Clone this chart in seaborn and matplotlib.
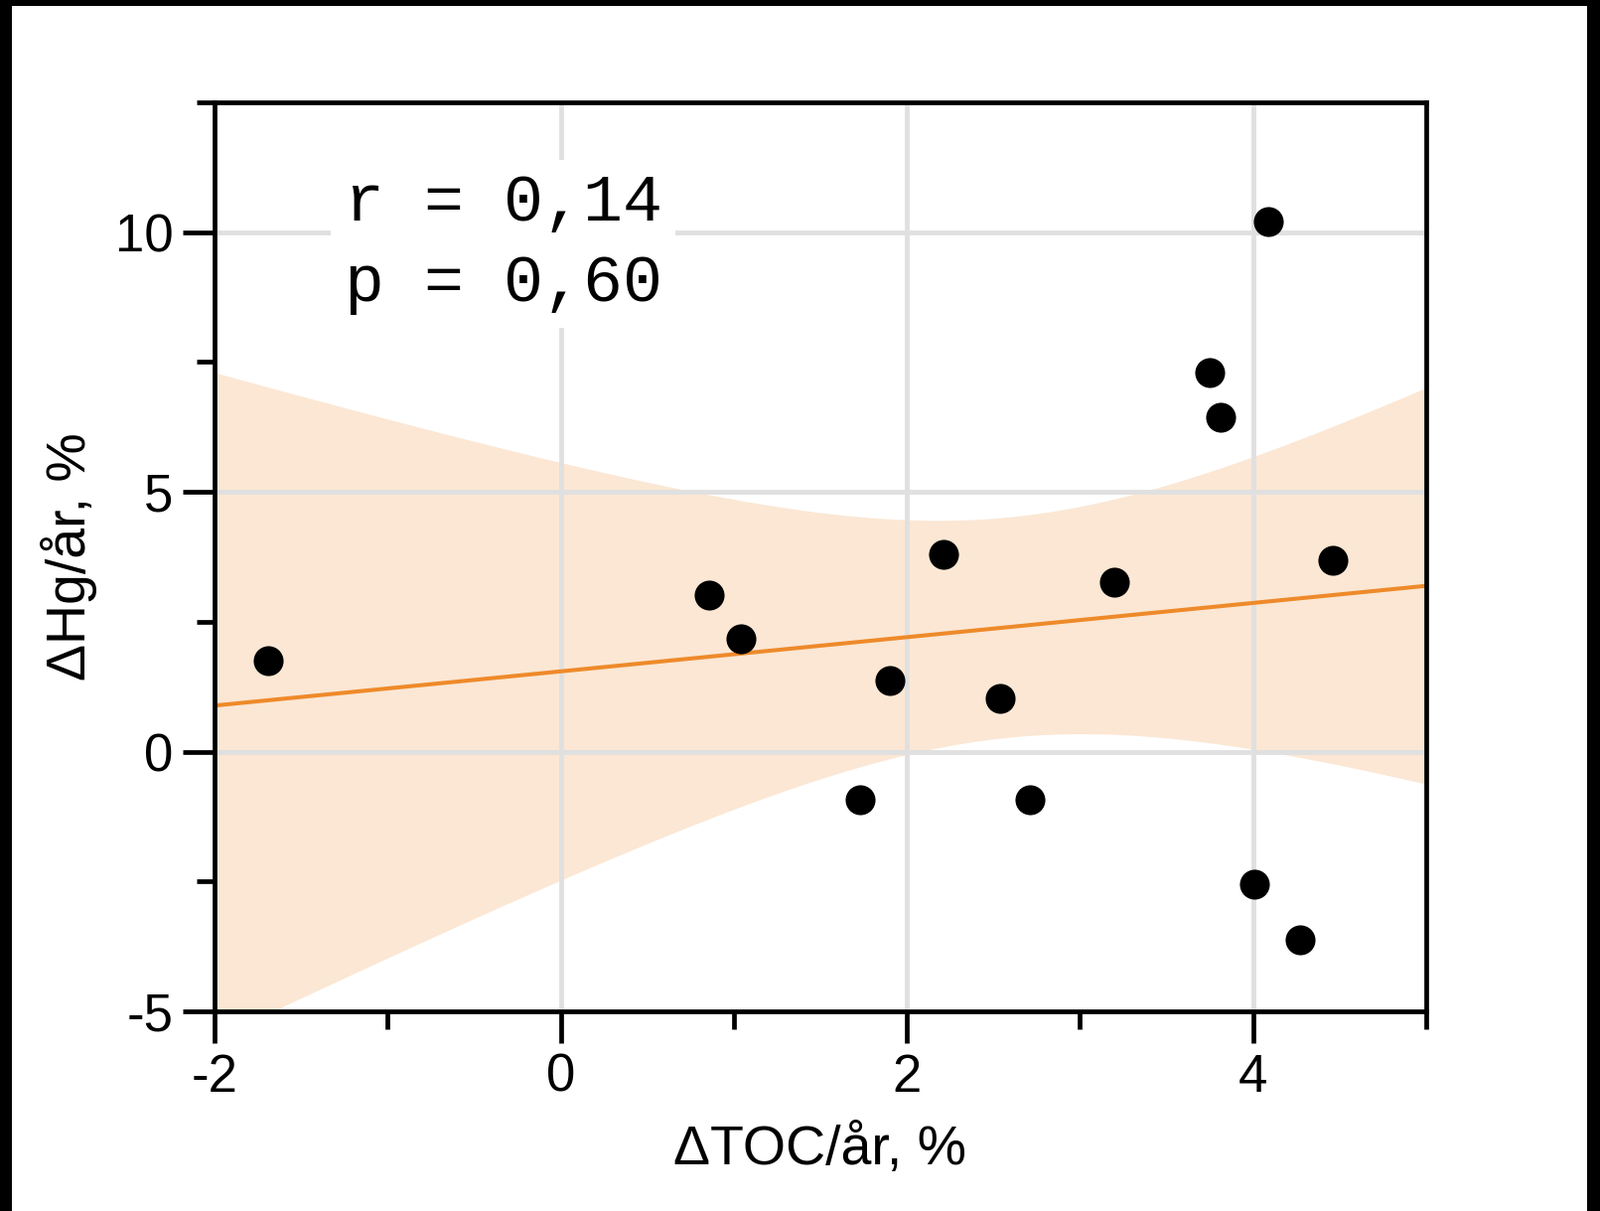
import matplotlib
matplotlib.use("Agg")
import matplotlib.pyplot as plt
from matplotlib.patches import Rectangle
from matplotlib.ticker import MultipleLocator
import numpy as np
import pandas as pd
import seaborn as sns

# ---- data ----
toc_change = [-1.69, 0.86, 1.04, 1.73, 1.90, 2.21, 2.54, 2.71, 3.20, 3.75, 3.81, 4.09, 4.01, 4.27, 4.46]
hg_change = [1.76, 3.02, 2.18, -0.93, 1.37, 3.79, 1.02, -0.93, 3.26, 7.29, 6.44, 10.20, -2.56, -3.62, 3.69]
x_label = "ΔTOC/år, %"
y_label = "ΔHg/år, %"
stats_text = "r = 0,14\np = 0,60"
x_major = [-2, 0, 2, 4]
y_major = [-5, 0, 5, 10]

df = pd.DataFrame({"toc": toc_change, "hg": hg_change})

sns.set_theme(style="white")
plt.rcParams["font.family"] = ["Liberation Sans", "DejaVu Sans"]
plt.rcParams["axes.unicode_minus"] = False

ORANGE = "#EE8A2A"
GRID = "#E0E0E0"

fig = plt.figure(figsize=(16.11, 12.19), dpi=100)
fig.patch.set_facecolor("white")
ax = fig.add_axes([216 / 1611, 1 - 1018 / 1219, (1436 - 216) / 1611, (1018 - 103) / 1219])

ax.set_xlim(-2, 5)
ax.set_ylim(-5, 12.5)

# regression line through seaborn
sns.regplot(data=df, x="toc", y="hg", ax=ax, scatter=False, truncate=False, ci=None,
            color=ORANGE, line_kws={"linewidth": 2.9, "zorder": 2})

# analytic 95 % confidence band of the fitted line
xv = np.asarray(toc_change, float)
yv = np.asarray(hg_change, float)
n = len(xv)
slope, intercept = np.polyfit(xv, yv, 1)
resid = yv - (slope * xv + intercept)
s_err = np.sqrt(np.sum(resid ** 2) / (n - 2))
sxx = np.sum((xv - xv.mean()) ** 2)
t_crit = 2.1604  # Student t, 0.975 quantile, 13 degrees of freedom
xg = np.linspace(-2, 5, 300)
yg = slope * xg + intercept
half = t_crit * s_err * np.sqrt(1 / n + (xg - xv.mean()) ** 2 / sxx)
ax.fill_between(xg, yg - half, yg + half, color=ORANGE, alpha=0.2, linewidth=0, zorder=1)

sns.scatterplot(data=df, x="toc", y="hg", ax=ax, color="black", s=470,
                linewidth=0, zorder=3, legend=False)

ax.set_xlim(-2, 5)
ax.set_ylim(-5, 12.5)

ax.xaxis.set_minor_locator(MultipleLocator(1))
ax.yaxis.set_minor_locator(MultipleLocator(2.5))
ax.set_xticks(x_major)
ax.set_yticks(y_major)
ax.set_xticklabels([str(v) for v in x_major])
ax.set_yticklabels([str(v) for v in y_major])

ax.set_axisbelow("line")
ax.grid(True, which="major", color=GRID, linewidth=3.5)
ax.grid(False, which="minor")

for sp in ax.spines.values():
    sp.set_color("black")
    sp.set_linewidth(3.4)
    sp.set_visible(True)

ax.tick_params(which="major", direction="out", length=23, width=3.4, color="black",
               labelsize=38, pad=7, bottom=True, left=True, top=False, right=False,
               labelcolor="black")
ax.tick_params(which="minor", direction="out", length=13, width=3.4, color="black",
               bottom=True, left=True, top=False, right=False)

ax.set_xlabel(x_label, fontsize=40, color="black", labelpad=16)
ax.set_ylabel(y_label, fontsize=40, color="black", labelpad=13)

ax.text(0.107, 0.922, stats_text, transform=ax.transAxes, ha="left", va="top",
        family=["Liberation Mono", "DejaVu Sans Mono"], fontsize=48, color="black",
        linespacing=1.38, zorder=4,
        bbox=dict(boxstyle="square,pad=0.2", facecolor="white", edgecolor="none"))

# black frame around the picture (left, top, right)
fig.add_artist(Rectangle((0, 0), 12 / 1611, 1, transform=fig.transFigure,
                         facecolor="black", edgecolor="none", zorder=10))
fig.add_artist(Rectangle((0, 1 - 6 / 1219), 1, 6 / 1219, transform=fig.transFigure,
                         facecolor="black", edgecolor="none", zorder=10))
fig.add_artist(Rectangle((1 - 13 / 1611, 0), 13 / 1611, 1, transform=fig.transFigure,
                         facecolor="black", edgecolor="none", zorder=10))

fig.savefig("out.png", dpi=100, facecolor="white")
